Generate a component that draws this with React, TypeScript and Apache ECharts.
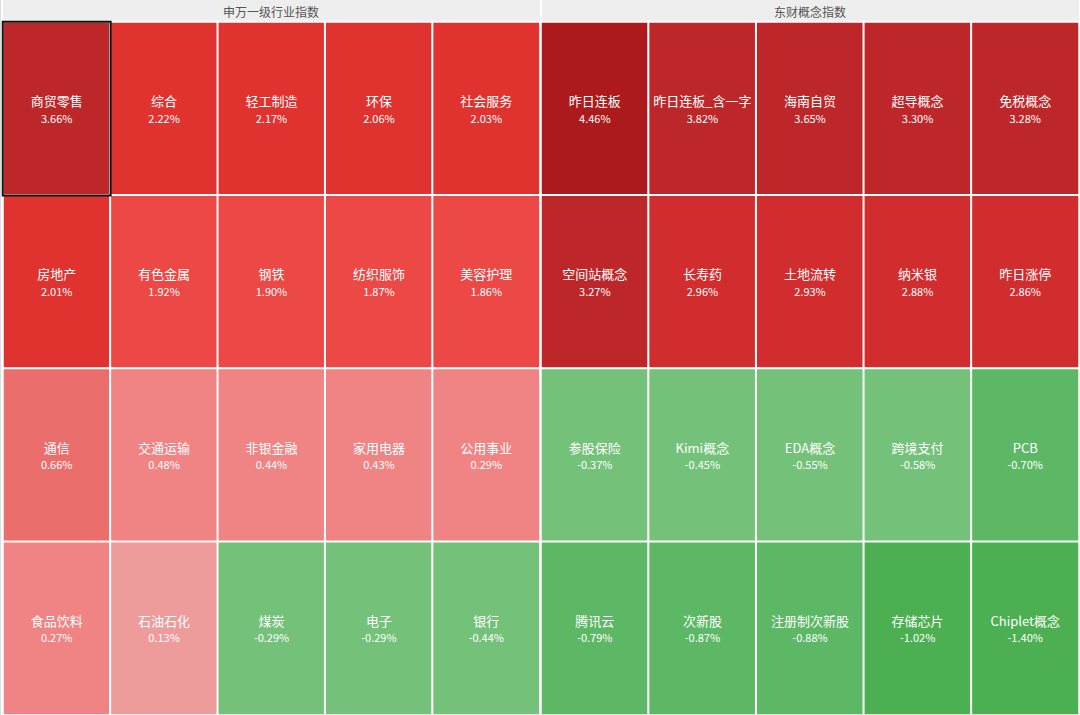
import React, { useEffect, useRef } from "react";
import * as echarts from "echarts";

const groupTitles = ["申万一级行业指数", "东财概念指数"];

const swNames = [
  "商贸零售", "综合", "轻工制造", "环保", "社会服务",
  "房地产", "有色金属", "钢铁", "纺织服饰", "美容护理",
  "通信", "交通运输", "非银金融", "家用电器", "公用事业",
  "食品饮料", "石油石化", "煤炭", "电子", "银行",
];
const swValues = [
  3.66, 2.22, 2.17, 2.06, 2.03,
  2.01, 1.92, 1.90, 1.87, 1.86,
  0.66, 0.48, 0.44, 0.43, 0.29,
  0.27, 0.13, -0.29, -0.29, -0.44,
];

const dcNames = [
  "昨日连板", "昨日连板_含一字", "海南自贸", "超导概念", "免税概念",
  "空间站概念", "长寿药", "土地流转", "纳米银", "昨日涨停",
  "参股保险", "Kimi概念", "EDA概念", "跨境支付", "PCB",
  "腾讯云", "次新股", "注册制次新股", "存储芯片", "Chiplet概念",
];
const dcValues = [
  4.46, 3.82, 3.65, 3.30, 3.28,
  3.27, 2.96, 2.93, 2.88, 2.86,
  -0.37, -0.45, -0.55, -0.58, -0.70,
  -0.79, -0.87, -0.88, -1.02, -1.40,
];

const COLS = 5;
const colCats = ["0", "1", "2", "3", "4"];
const rowCats = ["0", "1", "2", "3"];
const highlightIndex = 0;

const pieces = [
  { gte: 4, color: "#ac1a1c" },
  { gte: 3, lt: 4, color: "#be272a" },
  { gte: 2.5, lt: 3, color: "#d22d2e" },
  { gte: 2, lt: 2.5, color: "#e0332f" },
  { gte: 1, lt: 2, color: "#ec4845" },
  { gte: 0.5, lt: 1, color: "#ea6e6c" },
  { gte: 0.2, lt: 0.5, color: "#f08383" },
  { gte: 0, lt: 0.2, color: "#ee9b9c" },
  { gte: -0.6, lt: 0, color: "#74c279" },
  { gte: -1, lt: -0.6, color: "#5cb865" },
  { lt: -1, color: "#4caf51" },
];

function buildData(names: string[], values: number[]) {
  return names.map((n, i) => ({
    name: n,
    value: [i % COLS, Math.floor(i / COLS), values[i]],
  }));
}

export default function App() {
  const ref = useRef<HTMLDivElement>(null);
  useEffect(() => {
    document.body.style.margin = "0";
    const chart = echarts.init(ref.current!, null, { renderer: "svg" });
    const label = {
      show: true,
      color: "#ffffff",
      fontFamily: "Noto Sans CJK SC",
      formatter: (p: any) => `{n|${p.name}}\n{v|${p.value[2].toFixed(2)}%}`,
      rich: {
        n: { fontSize: 13, color: "#ffffff", fontFamily: "Noto Sans CJK SC", lineHeight: 18 },
        v: { fontSize: 11, color: "#ffffff", fontFamily: "Noto Sans CJK SC", lineHeight: 16 },
      },
    };
    const axisCommon = { type: "category", show: false, axisLine: { show: false }, axisTick: { show: false }, axisLabel: { show: false }, splitLine: { show: false } };
    const hl = buildData(swNames, swValues)[highlightIndex];
    chart.setOption({
      animation: false,
      backgroundColor: "#ffffff",
      grid: [
        { left: 3, top: 22, width: 537, height: 693 },
        { left: 541, top: 22, width: 538, height: 693 },
      ],
      xAxis: [
        { ...axisCommon, gridIndex: 0, data: colCats },
        { ...axisCommon, gridIndex: 1, data: colCats },
      ],
      yAxis: [
        { ...axisCommon, gridIndex: 0, data: rowCats, inverse: true },
        { ...axisCommon, gridIndex: 1, data: rowCats, inverse: true },
      ],
      visualMap: [
        {
          type: "piecewise",
          show: false,
          dimension: 2,
          pieces,
          seriesIndex: [0, 1],
        },
        {
          type: "piecewise",
          show: false,
          dimension: 2,
          pieces: [{ gte: -100, lte: 100, color: "rgba(0,0,0,0)" }],
          seriesIndex: 2,
        },
      ],
      graphic: [
        { type: "rect", shape: { x: 0, y: 0, width: 1, height: 715 }, style: { fill: "#dddddd" } },
        { type: "rect", shape: { x: 3, y: 0, width: 537, height: 21 }, style: { fill: "#eeeeee" } },
        { type: "rect", shape: { x: 542, y: 0, width: 537, height: 21 }, style: { fill: "#eeeeee" } },
        {
          type: "text", x: 271, y: 11,
          style: { text: groupTitles[0], fill: "#555555", font: "12px 'Noto Sans CJK SC'", align: "center", verticalAlign: "middle" },
        },
        {
          type: "text", x: 810, y: 11,
          style: { text: groupTitles[1], fill: "#555555", font: "12px 'Noto Sans CJK SC'", align: "center", verticalAlign: "middle" },
        },
      ],
      series: [
        {
          type: "heatmap",
          xAxisIndex: 0,
          yAxisIndex: 0,
          data: buildData(swNames, swValues),
          label,
          itemStyle: { borderColor: "#ffffff", borderWidth: 2 },
          emphasis: { disabled: true },
        },
        {
          type: "heatmap",
          xAxisIndex: 1,
          yAxisIndex: 1,
          data: buildData(dcNames, dcValues),
          label,
          itemStyle: { borderColor: "#ffffff", borderWidth: 2 },
          emphasis: { disabled: true },
        },
        {
          type: "heatmap",
          xAxisIndex: 0,
          yAxisIndex: 0,
          z: 5,
          data: [hl],
          label: { show: false },
          itemStyle: { borderColor: "#111111", borderWidth: 2 },
          emphasis: { disabled: true },
        },
      ],
    });
    return () => chart.dispose();
  }, []);
  return <div ref={ref} style={{ width: 1080, height: 715 }} />;
}
